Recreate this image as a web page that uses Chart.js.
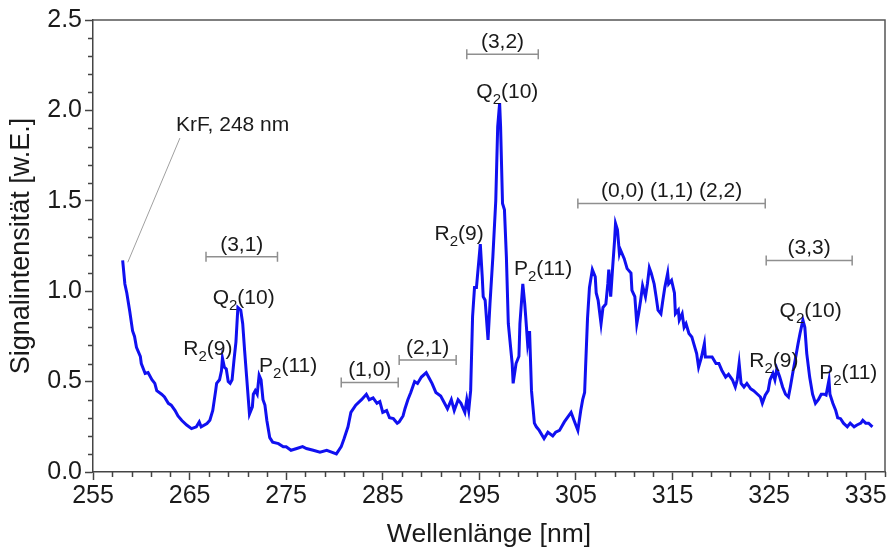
<!DOCTYPE html>
<html><head><meta charset="utf-8">
<script src="https://cdn.jsdelivr.net/npm/chart.js@4.4.1/dist/chart.umd.min.js"></script>
<style>html,body{margin:0;padding:0;background:#fff;}#wrap{width:893px;height:551px;position:relative;}</style>
</head><body><div id="wrap"><canvas id="c" width="893" height="551"></canvas></div>
<script>
const wavelength = [258.07,258.3,258.5,258.8,259.1,259.3,259.5,259.9,260.0,260.4,260.7,261.1,261.4,261.6,262.1,262.4,262.8,263.1,263.5,263.8,264.2,264.7,265.2,265.7,266.0,266.2,266.8,267.1,267.4,267.7,267.8,268.1,268.3,268.4,268.6,268.8,269.0,269.2,269.4,269.6,269.8,270.0,270.3,270.5,270.7,270.9,271.2,271.5,271.6,271.8,272.0,272.2,272.4,272.6,272.8,273.0,273.3,273.6,274.2,274.7,275.0,275.5,276.1,276.7,277.1,277.8,278.5,279.2,279.7,280.2,280.7,281.0,281.4,281.7,282.2,282.8,283.3,283.6,284.0,284.4,284.7,285.0,285.4,285.7,286.1,286.5,286.7,287.1,287.3,287.6,287.9,288.3,288.6,289.0,289.5,289.8,290.1,290.5,291.0,291.4,291.7,292.1,292.4,292.8,293.1,293.5,293.7,293.9,294.1,294.3,294.5,294.7,294.8,295.1,295.3,295.4,295.6,295.9,296.1,296.4,296.7,296.9,297.1,297.2,297.4,297.6,297.8,298.0,298.4,298.5,298.8,299.1,299.2,299.5,299.7,299.8,300.0,300.2,300.4,300.7,300.9,301.2,301.7,302.1,302.6,302.9,303.3,303.8,304.5,304.8,305.2,305.5,305.7,305.9,306.0,306.2,306.4,306.7,307.0,307.1,307.3,307.6,307.8,308.1,308.3,308.4,308.6,308.8,309.0,309.1,309.3,309.5,309.6,310.0,310.3,310.7,310.8,311.1,311.3,311.5,311.7,311.9,312.2,312.4,312.6,312.8,313.1,313.3,313.5,313.8,314.0,314.2,314.5,314.6,314.9,315.2,315.3,315.6,315.7,316.0,316.2,316.4,316.7,317.0,317.2,317.5,317.7,318.0,318.3,318.4,318.8,319.1,319.5,319.8,320.1,320.5,320.8,321.2,321.5,321.7,321.9,322.1,322.4,322.7,323.1,323.4,323.8,324.1,324.3,324.6,324.9,325.1,325.4,325.6,325.8,326.1,326.4,326.7,327.0,327.2,327.5,327.7,328.0,328.2,328.5,328.7,328.9,329.2,329.5,329.8,330.1,330.4,330.7,330.9,331.2,331.3,331.6,331.9,332.1,332.4,332.7,333.1,333.4,333.8,334.1,334.5,334.7,335.0,335.3,335.7];
const intensity = [1.17,1.04,0.99,0.89,0.78,0.75,0.69,0.64,0.60,0.545,0.55,0.51,0.49,0.45,0.43,0.415,0.38,0.37,0.34,0.31,0.285,0.26,0.24,0.25,0.277,0.25,0.268,0.286,0.34,0.45,0.49,0.51,0.56,0.63,0.58,0.57,0.50,0.49,0.51,0.62,0.72,0.91,0.895,0.82,0.67,0.53,0.32,0.36,0.43,0.45,0.43,0.535,0.51,0.40,0.37,0.285,0.19,0.165,0.157,0.14,0.14,0.12,0.13,0.14,0.13,0.12,0.11,0.12,0.11,0.10,0.14,0.185,0.25,0.33,0.37,0.40,0.43,0.40,0.41,0.38,0.39,0.33,0.34,0.30,0.295,0.27,0.277,0.31,0.35,0.40,0.44,0.50,0.49,0.525,0.55,0.52,0.49,0.44,0.42,0.38,0.35,0.40,0.34,0.40,0.38,0.33,0.40,0.34,0.45,0.86,1.02,1.02,1.08,1.26,1.08,0.97,0.95,0.73,0.93,1.19,1.50,1.91,2.04,1.91,1.485,1.45,1.19,0.82,0.60,0.49,0.60,0.64,0.82,1.04,0.93,0.86,0.71,0.78,0.45,0.27,0.25,0.23,0.185,0.22,0.20,0.22,0.23,0.277,0.33,0.286,0.23,0.34,0.40,0.44,0.58,0.85,1.02,1.12,1.08,0.99,0.95,0.82,0.91,0.93,1.04,1.12,0.97,1.13,1.28,1.375,1.34,1.21,1.23,1.18,1.125,1.10,1.005,0.97,0.82,0.88,0.95,1.03,0.97,1.04,1.13,1.10,1.04,0.97,0.895,0.875,0.95,1.02,1.10,1.04,1.06,0.99,0.875,0.895,0.84,0.875,0.80,0.82,0.766,0.747,0.71,0.655,0.58,0.636,0.71,0.636,0.636,0.636,0.60,0.60,0.563,0.525,0.54,0.51,0.47,0.51,0.60,0.49,0.47,0.49,0.46,0.45,0.43,0.415,0.38,0.425,0.45,0.51,0.545,0.51,0.57,0.525,0.47,0.43,0.415,0.47,0.563,0.62,0.71,0.766,0.84,0.80,0.655,0.525,0.43,0.38,0.40,0.43,0.43,0.425,0.51,0.43,0.38,0.34,0.30,0.295,0.27,0.25,0.27,0.25,0.26,0.27,0.286,0.27,0.27,0.25];
const xTickValues = [255,265,275,285,295,305,315,325,335];
const yTickValues = [0,0.5,1.0,1.5,2.0,2.5];
const bandLabels = ['(3,1)','(1,0)','(2,1)','(3,2)','(0,0) (1,1) (2,2)','(3,3)'];
const bandStart = [266.7,280.7,286.7,293.7,305.2,324.7];
const bandEnd = [274.1,286.6,292.6,301.1,324.6,333.6];
const bandLevel = [1.19,0.495,0.62,2.31,1.485,1.17];
const lineLetters = ['R','Q','P','R','Q','P','R','Q','P'];
const lineSubs = ['2','2','2','2','2','2','2','2','2'];
const lineNumbers = ['(9)','(10)','(11)','(9)','(10)','(11)','(9)','(10)','(11)'];
const lineX = [266.9,270.6,275.2,292.9,297.9,301.6,325.5,329.3,333.2];
const lineY = [0.685,0.97,0.59,1.32,2.11,1.13,0.62,0.895,0.555];
const laserLabel = 'KrF, 248 nm';
const laserTextPos = [263.6,1.92];
const laserLeader = [[264.0,1.847],[258.6,1.16]];

const FONT = 'Arial, "Liberation Sans", sans-serif';
const TXT = '#1a1a1a';

const decorations = {
  id: 'decorations',
  afterDraw(chart) {
    const {ctx, chartArea: a, scales: {x, y}} = chart;
    ctx.save();
    ctx.strokeStyle = '#555'; ctx.lineWidth = 1.5;
    ctx.beginPath(); ctx.moveTo(a.left, a.top); ctx.lineTo(a.right, a.top); ctx.lineTo(a.right, a.bottom); ctx.stroke();
    ctx.strokeStyle = '#444'; ctx.lineWidth = 1.5;
    ctx.beginPath();
    for (let v = 257; v <= 337; v += 2) {
      if ((v - 255) % 10 === 0) continue;
      const px = Math.round(x.getPixelForValue(v)) + 0.5;
      ctx.moveTo(px, a.bottom); ctx.lineTo(px, a.bottom + 5);
    }
    for (let i = 1; i < 25; i++) {
      if (i % 5 === 0) continue;
      const py = Math.round(y.getPixelForValue(i / 10)) + 0.5;
      ctx.moveTo(a.left, py); ctx.lineTo(a.left - 5, py);
    }
    ctx.stroke();
    ctx.strokeStyle = '#8f8f8f'; ctx.lineWidth = 1.5;
    ctx.fillStyle = TXT; ctx.font = '21px ' + FONT; ctx.textAlign = 'center'; ctx.textBaseline = 'middle';
    bandLabels.forEach((lab, i) => {
      const x0 = x.getPixelForValue(bandStart[i]), x1 = x.getPixelForValue(bandEnd[i]);
      const py = y.getPixelForValue(bandLevel[i]);
      ctx.beginPath();
      ctx.moveTo(x0, py); ctx.lineTo(x1, py);
      ctx.moveTo(x0, py - 5); ctx.lineTo(x0, py + 5);
      ctx.moveTo(x1, py - 5); ctx.lineTo(x1, py + 5);
      ctx.stroke();
      ctx.fillText(lab, (x0 + x1) / 2, py - 12);
    });
    ctx.textAlign = 'left'; ctx.textBaseline = 'alphabetic';
    lineLetters.forEach((L, i) => {
      ctx.font = '21px ' + FONT; const w1 = ctx.measureText(L).width; const w3 = ctx.measureText(lineNumbers[i]).width;
      ctx.font = '15px ' + FONT; const w2 = ctx.measureText(lineSubs[i]).width;
      const cx = x.getPixelForValue(lineX[i]), cy = y.getPixelForValue(lineY[i]);
      let sx = cx - (w1 + w2 + w3) / 2; const base = cy + 7;
      ctx.font = '21px ' + FONT; ctx.fillText(L, sx, base); sx += w1;
      ctx.font = '15px ' + FONT; ctx.fillText(lineSubs[i], sx, base + 6); sx += w2;
      ctx.font = '21px ' + FONT; ctx.fillText(lineNumbers[i], sx, base);
    });
    ctx.font = '21px ' + FONT; ctx.textBaseline = 'middle';
    ctx.fillText(laserLabel, x.getPixelForValue(laserTextPos[0]), y.getPixelForValue(laserTextPos[1]));
    ctx.strokeStyle = '#a0a0a0'; ctx.lineWidth = 1;
    ctx.beginPath();
    ctx.moveTo(x.getPixelForValue(laserLeader[0][0]), y.getPixelForValue(laserLeader[0][1]));
    ctx.lineTo(x.getPixelForValue(laserLeader[1][0]), y.getPixelForValue(laserLeader[1][1]));
    ctx.stroke();
    ctx.restore();
  }
};

new Chart(document.getElementById('c'), {
  type: 'line',
  data: { datasets: [{
    data: wavelength.map((w, i) => ({x: w, y: intensity[i]})),
    borderColor: '#1010f0', borderWidth: 3, pointRadius: 0, tension: 0, fill: false
  }]},
  options: {
    responsive: false, animation: false, devicePixelRatio: 1,
    layout: { padding: { top: 20, right: 8, left: 0, bottom: 0 } },
    plugins: { legend: { display: false }, tooltip: { enabled: false } },
    scales: {
      x: {
        type: 'linear', min: 255, max: 337,
        afterBuildTicks: s => { s.ticks = xTickValues.map(v => ({value: v})); },
        afterFit: s => { s.height = 79; },
        ticks: { font: { size: 25, family: FONT }, color: TXT, padding: 1, callback: v => String(v), maxRotation: 0 },
        grid: { drawOnChartArea: false, drawTicks: true, tickLength: 8, tickColor: '#444', tickWidth: 1.5 },
        border: { display: true, color: '#444', width: 1.5 },
        title: { display: true, text: 'Wellenlänge [nm]', font: { size: 26.5, family: FONT }, color: TXT, padding: { top: 0, bottom: 0 } }
      },
      y: {
        min: 0, max: 2.5,
        afterBuildTicks: s => { s.ticks = yTickValues.map(v => ({value: v})); },
        afterFit: s => { s.width = 93; },
        ticks: { font: { size: 25, family: FONT }, color: TXT, padding: 3, callback: v => v.toFixed(1) },
        grid: { drawOnChartArea: false, drawTicks: true, tickLength: 8, tickColor: '#444', tickWidth: 1.5 },
        border: { display: true, color: '#444', width: 1.5 },
        title: { display: true, text: 'Signalintensität [w.E.]', font: { size: 27, family: FONT }, color: TXT, padding: { top: 5, bottom: 0 } }
      }
    }
  },
  plugins: [decorations]
});
</script></body></html>
